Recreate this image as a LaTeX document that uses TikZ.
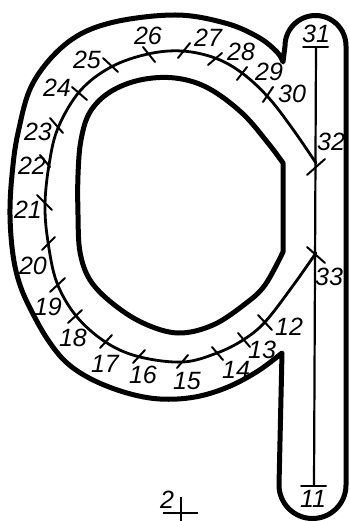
\documentclass[tikz,border=0pt]{standalone}
\usepackage{fontspec}
\setmainfont{Liberation Sans}
\begin{document}
\begin{tikzpicture}[x=1pt,y=1pt,
  thickline/.style={line width=5pt, line join=round, line cap=round},
  midline/.style={line width=2.8pt, line cap=round, line join=round},
  axisline/.style={line width=2.2pt},
  tickmark/.style={line width=2pt, line cap=round},
  lbl/.style={font=\fontsize{25}{25}\selectfont\itshape, inner sep=0pt}]
\useasboundingbox (0,0) rectangle (350,-521);
\fill[white] (0,0) rectangle (350,-521);

% outer outline of the letter
\draw[thickline] plot[smooth, tension=0.6] coordinates {(283,-62) (277,-52) (258,-37) (225,-23) (175,-15) (110,-23) (67,-43) (33,-83) (18,-133) (12,-175) (10,-215) (13,-255) (20,-285) (32,-312) (48,-340) (67,-363) (93,-380) (127,-393) (160,-399) (195,-397) (228,-387) (258,-371) (282,-353)}
  -- (279,-485) arc[start angle=180, end angle=360, radius=33.5]
  -- (346,-46) arc[start angle=0, end angle=180, radius=30.5] -- cycle;

% inner outline of the bowl
\draw[thickline] plot[smooth, tension=0.6] coordinates {(283,-163) (268,-143) (242,-113) (208,-88) (175,-78) (140,-80) (110,-92) (90,-112) (81,-140) (78,-175) (78,-215) (80,-252) (90,-280) (112,-303) (143,-323) (178,-333) (213,-325) (245,-304) (265,-285) (283,-252)} -- cycle;

% middle path
\draw[midline] plot[smooth, tension=0.6] coordinates {(316,-253) (292,-287) (265,-322) (243,-340) (217,-353) (183,-362) (140,-357) (107,-343) (77,-317) (57,-283) (48,-242) (45,-205) (49,-165) (58,-128) (80,-91) (111,-67) (148,-54) (182,-51) (215,-58) (242,-73) (268,-97) (292,-128) (316,-163)};

% stem axis
\coordinate (top) at (316,-47);
\coordinate (bot) at (314,-486);
\draw[axisline] (top) -- (bot);
\draw[tickmark] (303,-47) -- (328,-47);
\draw[tickmark] (301,-486) -- (326,-486);

% ticks
\draw[tickmark] (37,-195) -- (52,-210);
\draw[tickmark] (55,-237) -- (42,-250);
\draw[tickmark] (65,-278) -- (50,-292);
\draw[tickmark] (82,-310) -- (68,-323);
\draw[tickmark] (112,-335) -- (100,-348);
\draw[tickmark] (145,-350) -- (133,-363);
\draw[tickmark] (188,-355) -- (177,-368);
\draw[tickmark] (212,-347) -- (223,-360);
\draw[tickmark] (238,-333) -- (250,-347);
\draw[tickmark] (258,-315) -- (272,-330);
\draw[tickmark] (307,-247) -- (325,-263);
\draw[tickmark] (325,-159) -- (307,-175);
\draw[tickmark] (273,-87) -- (263,-102);
\draw[tickmark] (247,-67) -- (237,-80);
\draw[tickmark] (222,-53) -- (208,-65);
\draw[tickmark] (190,-43) -- (178,-58);
\draw[tickmark] (143,-47) -- (155,-62);
\draw[tickmark] (103,-58) -- (118,-72);
\draw[tickmark] (72,-87) -- (87,-100);
\draw[tickmark] (50,-118) -- (63,-133);
\draw[tickmark] (40,-155) -- (50,-167);

% labels
\node[lbl] (l11) at (313,-499) {11};
\node[lbl] (l12) at (289,-327) {12};
\node[lbl] (l13) at (262,-350) {13};
\node[lbl] (l14) at (236,-370) {14};
\node[lbl] (l15) at (187,-381) {15};
\node[lbl] (l16) at (143,-375) {16};
\node[lbl] (l17) at (105,-364) {17};
\node[lbl] (l18) at (73,-338) {18};
\node[lbl] (l19) at (48,-307) {19};
\node[lbl] (l20) at (33,-266) {20};
\node[lbl] (l21) at (28,-210) {21};
\node[lbl] (l22) at (32,-166) {22};
\node[lbl] (l23) at (38,-132) {23};
\node[lbl] (l24) at (57,-88) {24};
\node[lbl] (l25) at (87,-60) {25};
\node[lbl] (l26) at (148,-36) {26};
\node[lbl] (l27) at (208,-38) {27};
\node[lbl] (l28) at (241,-52) {28};
\node[lbl] (l29) at (269,-72) {29};
\node[lbl] (l30) at (292,-94) {30};
\node[lbl] (l31) at (316,-34) {31};
\node[lbl] (l32) at (331,-142) {32};
\node[lbl] (l33) at (329,-277) {33};

% mark 2 with cross
\node[lbl] (l2) at (167,-500) {2};
\coordinate (ch1) at (163,-513);
\coordinate (ch2) at (198,-513);
\coordinate (cv1) at (181,-497);
\coordinate (cv2) at (181,-521);
\draw[tickmark, line cap=butt] (ch1) -- (ch2);
\draw[tickmark, line cap=butt] (cv1) -- (cv2);
\end{tikzpicture}
\end{document}
